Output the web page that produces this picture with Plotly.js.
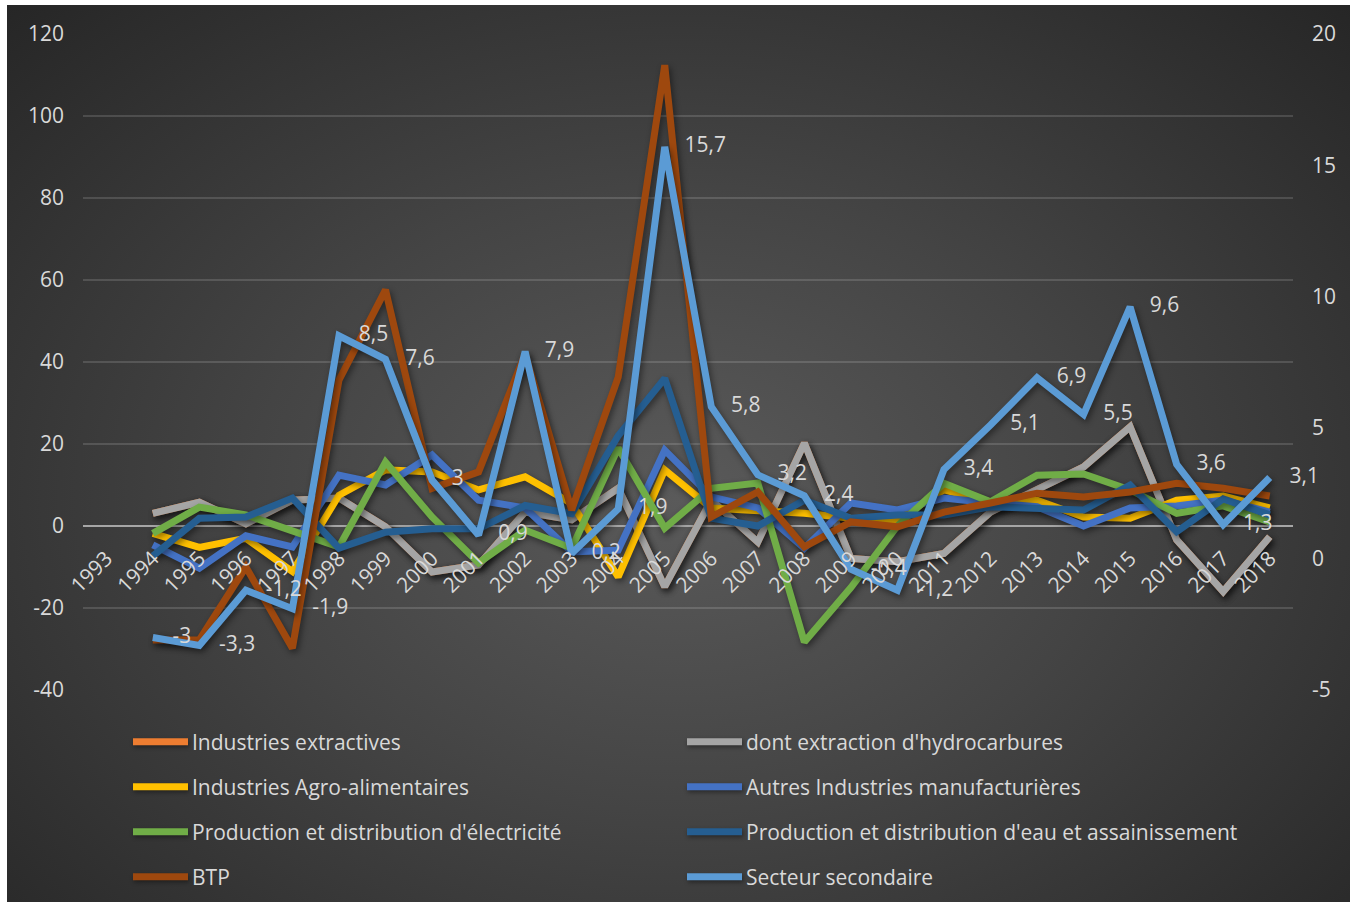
<!DOCTYPE html>
<html>
<head>
<meta charset="utf-8">
<script src="https://cdn.plot.ly/plotly-3.0.1.min.js"></script>
<style>
  html, body { margin: 0; padding: 0; background: #ffffff; }
  #chart {
    position: absolute; left: 7px; top: 5px; width: 1343px; height: 897px;
    background: radial-gradient(ellipse farthest-corner at 50% 55%, #5a5a5a 0%, #444444 45%, #262626 100%);
  }
  #chart .scatterlayer .js-line { filter: drop-shadow(2px 3px 3px rgba(0,0,0,0.45)); }
  #chart .legendlines path { d: path("M6,0h55"); filter: drop-shadow(1px 2px 2px rgba(0,0,0,0.4)); }
</style>
</head>
<body>
<div id="chart"></div>
<script>
const years = ['1993','1994','1995','1996','1997','1998','1999','2000','2001','2002','2003','2004','2005','2006','2007','2008','2009','2010','2011','2012','2013','2014','2015','2016','2017','2018'];

const extractives   = [null, 3.1, 5.8, 0.5, 6.3, 6.8, -0.2, -11.2, -9.5, 3.4, 1.5, 9.2, -14.8, 6.3, -3.9, 20.2, -7.9, -8.7, -6.7, 3.4, 8.8, 14.4, 24.2, -3.4, -16, -2.6];
const hydrocarbures = [null, 3.1, 5.8, 0.5, 6.3, 6.8, -0.2, -11.2, -9.5, 3.4, 1.5, 9.2, -14.8, 6.3, -3.9, 20.2, -7.9, -8.7, -6.7, 3.4, 8.8, 14.4, 24.2, -3.4, -16, -2.6];
const agro          = [null, -1.8, -5.2, -3, -11.1, 7.5, 13.7, 13.2, 8.8, 12, 5.5, -12.4, 13.7, 4.4, 3.9, 3.1, 1.9, 1.5, 8.8, 5.9, 6.3, 2.2, 1.9, 6.3, 7.3, 4.4];
const autresManuf   = [null, -4.6, -10.3, -2.4, -5.1, 12.4, 10, 17.3, 6.3, 4.4, -6.3, -5.9, 18.5, 7.1, 4.4, -5.4, 5.6, 3.9, 6.8, 5.6, 4.7, 0, 4.4, 4.9, 6.3, 3.4];
const electricite   = [null, -1.8, 4.6, 2.7, -1, -5.1, 15.6, 2.2, -9, -1, -5.4, 19, -0.5, 9.2, 10.5, -28.3, -15, 0, 10.4, 5.9, 12.4, 12.7, 8.8, 3.1, 4.9, 1];
const eau           = [null, -7.3, 1.9, 2.2, 6.8, -5.4, -1.5, -0.7, -0.7, 5, 3, 22, 36, 1.9, 0, 6.3, 1.9, 2.7, 2.7, 4.7, 4.1, 3.9, 10, -1.4, 6.6, 2.7];
const btp           = [null, -27.8, -27.8, -10, -29.8, 35.6, 57.6, 9.2, 13.2, 42, 3.9, 36.3, 112.4, 2.2, 8.3, -5.1, 1, -0.2, 3.4, 5.6, 8, 7.1, 8.3, 10.4, 9.2, 7.3];
const secondaire    = [null, -3, -3.3, -1.2, -1.9, 8.5, 7.6, 3, 0.9, 7.9, 0.2, 1.9, 15.7, 5.8, 3.2, 2.4, -0.4, -1.2, 3.4, 5.1, 6.9, 5.5, 9.6, 3.6, 1.3, 3.1];

const leftTicks  = [-40, -20, 0, 20, 40, 60, 80, 100, 120];
const rightTicks = [-5, 0, 5, 10, 15, 20];

const names = ['Industries extractives', "dont extraction d'hydrocarbures", 'Industries Agro-alimentaires', 'Autres Industries manufacturières', "Production et distribution d'électricité", "Production et distribution d'eau et assainissement", 'BTP', 'Secteur secondaire'];
const colors = ['#ED7D31', '#A5A5A5', '#FFC000', '#4472C4', '#70AD47', '#255E91', '#9E480E', '#5B9BD5'];
const series = [extractives, hydrocarbures, agro, autresManuf, electricite, eau, btp, secondaire];

const txtColor = '#d9d9d9';
const fontFam = '"Open Sans", "DejaVu Sans", sans-serif';
const fs = 21;

const W = 1343, H = 897;
const legendCols = [120 / W, 674 / W];
const legendRows = [737, 782, 827, 872];

const traces = series.map((vals, i) => {
  const isSec = i === 7;
  const t = {
    type: 'scatter',
    x: years,
    y: vals,
    name: names[i],
    mode: isSec ? 'lines+markers+text' : 'lines',
    line: { color: colors[i], width: 7, shape: 'linear' },
    hoverinfo: 'skip',
    connectgaps: false,
    cliponaxis: false,
    legend: i === 0 ? 'legend' : 'legend' + (i + 1)
  };
  if (isSec) {
    t.yaxis = 'y2';
    t.text = vals.map(v => v === null ? '' : String(v).replace('.', ','));
    t.textposition = 'middle right';
    t.textfont = { color: txtColor, size: fs, family: fontFam };
    t.marker = { size: 30, color: 'rgba(0,0,0,0)' };
  }
  return t;
});

const layout = {
  width: W, height: H,
  paper_bgcolor: 'rgba(0,0,0,0)',
  plot_bgcolor: 'rgba(0,0,0,0)',
  margin: { l: 76, r: 57, t: 29, b: 212, pad: 0 },
  font: { family: fontFam, color: txtColor, size: fs },
  showlegend: true,
  xaxis: {
    type: 'category',
    range: [-0.5, 25.5],
    anchor: 'free',
    position: 0.25,
    tickangle: -45,
    ticks: '',
    showgrid: false,
    zeroline: false,
    showline: false,
    tickfont: { size: fs, color: txtColor, family: fontFam },
    ticklabelstandoff: 15
  },
  yaxis: {
    range: [-40, 120],
    tickmode: 'array',
    tickvals: leftTicks,
    ticktext: leftTicks.map(String),
    showgrid: true,
    gridcolor: 'rgba(255,255,255,0.14)',
    gridwidth: 1.5,
    zeroline: true,
    zerolinecolor: '#a6a6a6',
    zerolinewidth: 2.5,
    ticks: '',
    tickfont: { size: fs, color: txtColor, family: fontFam },
    ticklabelstandoff: 18,
    domain: [0, 1]
  },
  yaxis2: {
    overlaying: 'y',
    side: 'right',
    range: [-5, 20],
    tickmode: 'array',
    tickvals: rightTicks,
    ticktext: rightTicks.map(String),
    showgrid: false,
    zeroline: false,
    ticks: '',
    tickfont: { size: fs, color: txtColor, family: fontFam },
    ticklabelstandoff: 18
  }
};

for (let i = 0; i < 8; i++) {
  const key = i === 0 ? 'legend' : 'legend' + (i + 1);
  layout[key] = {
    xref: 'container', yref: 'container',
    x: legendCols[i % 2],
    y: 1 - legendRows[Math.floor(i / 2)] / H,
    xanchor: 'left', yanchor: 'middle',
    orientation: 'h',
    bgcolor: 'rgba(0,0,0,0)',
    borderwidth: 0,
    font: { size: fs, color: txtColor, family: fontFam },
    itemwidth: 55
  };
}

Plotly.newPlot('chart', traces, layout, { staticPlot: true, displayModeBar: false });
</script>
</body>
</html>
